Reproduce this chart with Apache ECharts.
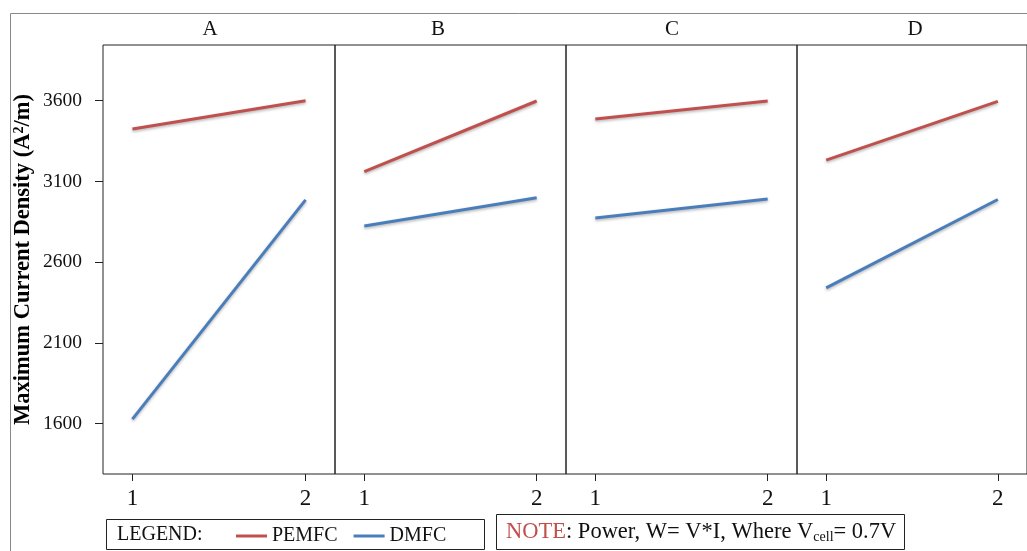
<!DOCTYPE html>
<html>
<head>
<meta charset="utf-8">
<script src="https://cdn.jsdelivr.net/npm/echarts@6/dist/echarts.min.js"></script>
<style>
	html, body { margin: 0; padding: 0; background: #fff; }
	#chart { width: 1027px; height: 551px; }
</style>
</head>
<body>
<div id="chart"></div>
<script>
	// panels and x levels
	var panels = ['A', 'B', 'C', 'D'];
	var levels = [1, 2];
	var yTicks = [1600, 2100, 2600, 3100, 3600];

	// maximum current density at level 1 and 2, per panel
	var pemfc = [
		[3425, 3600],
		[3160, 3598],
		[3487, 3598],
		[3232, 3596]
	];
	var dmfc = [
		[1627, 2985],
		[2824, 2998],
		[2873, 2991],
		[2440, 2988]
	];

	var serif = '"Liberation Serif", "DejaVu Serif", serif';
	var red = '#c0504d';
	var blue = '#4a7ebb';

	var panelLeft = [103, 335, 566, 797];
	var panelWidth = [232, 231, 231, 230];
	var headerX = [210, 438, 672, 915];

	var grids = [], xAxes = [], yAxes = [], series = [];
	panels.forEach(function (p, i) {
		grids.push({
			left: panelLeft[i], top: 45, width: panelWidth[i], height: 429,
			show: true, borderColor: '#222', borderWidth: 1,
			outerBoundsMode: 'none'
		});
		xAxes.push({
			type: 'value', gridIndex: i, min: 0.83, max: 2.17,
			splitLine: { show: false },
			axisLine: { show: false },
			axisTick: { show: true, length: 7, inside: false, customValues: levels, lineStyle: { color: '#222' } },
			axisLabel: { customValues: levels, fontFamily: serif, fontSize: 23, color: '#111', margin: 13 }
		});
		yAxes.push({
			type: 'value', gridIndex: i, min: 1287, max: 3945,
			show: i === 0,
			splitLine: { show: false },
			axisLine: { show: false },
			axisTick: { show: true, length: 8, customValues: yTicks, lineStyle: { color: '#222' } },
			axisLabel: {
				customValues: yTicks, fontFamily: serif, fontSize: 19.5, color: '#111', margin: 21,
				formatter: function (v) { return String(v); }
			},
			name: i === 0 ? 'Maximum Current Density (A{sup|2}/m)' : '',
			nameLocation: 'middle',
			nameRotate: 90,
			nameGap: 68,
			nameTextStyle: {
				fontFamily: serif, fontSize: 22.5, fontWeight: 'bold', color: '#000',
				rich: { sup: { fontFamily: serif, fontSize: 14, fontWeight: 'bold', verticalAlign: 'top', padding: [0, 0, 8, 0] } }
			}
		});
		[['PEMFC', pemfc[i], red], ['DMFC', dmfc[i], blue]].forEach(function (s) {
			series.push({
				name: s[0], type: 'line', xAxisIndex: i, yAxisIndex: i,
				showSymbol: false, symbol: 'none', silent: true,
				data: levels.map(function (x, k) { return [x, s[1][k]]; }),
				lineStyle: { color: s[2], width: 3, shadowBlur: 3, shadowColor: 'rgba(0,0,0,0.3)', shadowOffsetY: 1.5 },
				itemStyle: { color: s[2] }
			});
		});
	});

	var headers = panels.map(function (p, i) {
		return {
			type: 'text', x: headerX[i], y: 29,
			style: { text: p, fontFamily: serif, fontSize: 21, fill: '#111', align: 'center', verticalAlign: 'middle' }
		};
	});

	var myChart = echarts.init(document.getElementById('chart'));
	myChart.setOption({
		animation: false,
		grid: grids,
		xAxis: xAxes,
		yAxis: yAxes,
		legend: {
			data: ['PEMFC', 'DMFC'],
			left: 231, top: 521,
			icon: 'rect', itemWidth: 31, itemHeight: 3, itemGap: 16,
			textStyle: { fontFamily: serif, fontSize: 20, color: '#111' }
		},
		graphic: headers.concat([
			// outer frame
			{ type: 'line', shape: { x1: 10.5, y1: 13.5, x2: 1027, y2: 13.5 }, style: { stroke: '#888', lineWidth: 1 } },
			{ type: 'line', shape: { x1: 10.5, y1: 13.5, x2: 10.5, y2: 551 }, style: { stroke: '#888', lineWidth: 1 } },
			// legend box
			{ type: 'rect', shape: { x: 106.5, y: 519.5, width: 378, height: 30 }, style: { fill: 'none', stroke: '#222', lineWidth: 1 } },
			{ type: 'text', x: 117, y: 535, style: { text: 'LEGEND:', fontFamily: serif, fontSize: 20, fill: '#111', verticalAlign: 'middle' } },
			// note box
			{ type: 'rect', shape: { x: 496.5, y: 514.5, width: 408, height: 35 }, style: { fill: 'none', stroke: '#222', lineWidth: 1 } },
			{
				type: 'text', x: 506, y: 532,
				style: {
					text: '{red|NOTE}{k|: Power, W= V*I, Where V}{sub|cell}{k|= 0.7V}',
					fontFamily: serif, fontSize: 22.5, fill: '#111', verticalAlign: 'middle',
					rich: {
						red: { fontFamily: serif, fontSize: 22.5, fill: red },
						k: { fontFamily: serif, fontSize: 22.5, fill: '#111' },
						sub: { fontFamily: serif, fontSize: 14, fill: '#111', verticalAlign: 'bottom', padding: [11, 0, 0, 0] }
					}
				}
			}
		]),
		series: series
	});
</script>
</body>
</html>
